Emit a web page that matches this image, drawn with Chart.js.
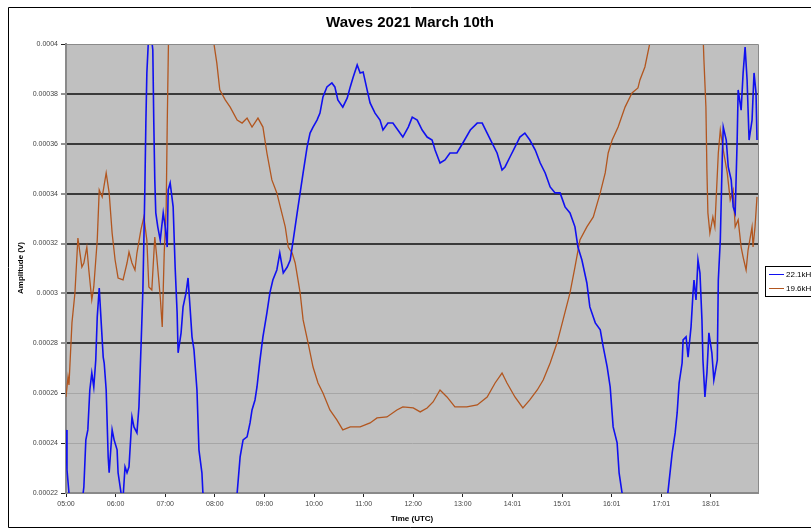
<!DOCTYPE html>
<html>
<head>
<meta charset="utf-8">
<title>Waves 2021 March 10th</title>
<script src="https://cdn.jsdelivr.net/npm/chart.js@4.4.1/dist/chart.umd.min.js"></script>
<style>
    body { margin: 0; background: #ffffff; }
    #wrap { width: 811px; height: 531px; }
</style>
</head>
<body>
<div id="wrap"><canvas id="wavesChart" width="811" height="531"></canvas></div>
<script>
// times are decimal hours (UTC), amplitudes in microvolts
var blueHours = [5.00, 5.02, 5.06, 5.10, 5.30, 5.36, 5.40, 5.44, 5.48, 5.52, 5.56, 5.60, 5.63, 5.67, 5.71, 5.75, 5.77, 5.81, 5.85, 5.87,
    5.93, 5.97, 6.03, 6.05, 6.11, 6.15, 6.19, 6.23, 6.27, 6.33, 6.37, 6.43, 6.47, 6.51, 6.55, 6.57, 6.59, 6.61, 6.63, 6.67,
    6.71, 6.75, 6.77, 6.79, 6.81, 6.85, 6.90, 6.96, 7.00, 7.04, 7.06, 7.10, 7.16, 7.20, 7.24, 7.26, 7.32, 7.36, 7.42, 7.46,
    7.50, 7.54, 7.58, 7.64, 7.68, 7.74, 7.76, 7.90, 8.20, 8.40, 8.45, 8.51, 8.57, 8.65, 8.71, 8.75, 8.81, 8.85, 8.91, 8.97,
    9.05, 9.11, 9.17, 9.25, 9.31, 9.38, 9.46, 9.52, 9.58, 9.66, 9.72, 9.78, 9.86, 9.92, 9.98, 10.06, 10.12, 10.18, 10.26, 10.36,
    10.42, 10.48, 10.58, 10.67, 10.73, 10.79, 10.87, 10.93, 10.99, 11.07, 11.13, 11.23, 11.33, 11.39, 11.49, 11.59, 11.69, 11.79, 11.90, 11.98,
    12.08, 12.18, 12.28, 12.38, 12.44, 12.54, 12.64, 12.74, 12.88, 13.00, 13.15, 13.29, 13.39, 13.49, 13.59, 13.69, 13.79, 13.85, 13.95, 14.05,
    14.15, 14.25, 14.35, 14.46, 14.56, 14.66, 14.76, 14.86, 14.96, 15.06, 15.16, 15.26, 15.32, 15.40, 15.50, 15.56, 15.67, 15.77, 15.83, 15.91,
    15.97, 16.03, 16.11, 16.15, 16.21, 16.50, 16.90, 17.10, 17.22, 17.28, 17.32, 17.36, 17.42, 17.44, 17.50, 17.54, 17.60, 17.64, 17.66, 17.70,
    17.74, 17.78, 17.82, 17.84, 17.88, 17.92, 17.96, 18.02, 18.06, 18.13, 18.15, 18.19, 18.23, 18.25, 18.31, 18.35, 18.41, 18.45, 18.49, 18.53,
    18.55, 18.61, 18.65, 18.69, 18.73, 18.77, 18.83, 18.87, 18.91, 18.93];
var blueMicroV = [245.3, 229.3, 220.0, 212, 212, 222.4, 241.3, 245.3, 261.3, 268.1, 262.5, 273.3, 290.6, 302.2, 288.2, 274.5, 272.1, 261.3, 234.5, 228.1,
    245.3, 241.3, 237.3, 228.1, 220.0, 218, 230.5, 228.1, 230.5, 250.5, 246.5, 244.1, 254.5, 277.4, 301.4, 321.4, 342.7, 368.3, 388.4, 405,
    405, 397.6, 368.3, 345.5, 332.3, 326.7, 321.4, 332.3, 326.7, 318.6, 341.5, 344.3, 334.7, 310.6, 292.2, 276.2, 284.2, 294.6, 300.2, 306.2,
    294.6, 282.6, 277.4, 261.3, 237.3, 228.1, 220.0, 205, 200, 212, 220.0, 234.5, 241.3, 242.5, 248.1, 253.3, 257.3, 262.5, 273.3, 282.6,
    292.2, 300.2, 305.4, 309.4, 316.2, 308.2, 310.6, 313.4, 321.4, 332.3, 340.3, 348.3, 358.7, 364.3, 366.7, 369.5, 372.3, 378.8, 382.8, 384.4,
    382.8, 377.6, 374.7, 378.4, 382.8, 386.8, 391.6, 388.4, 388.8, 381.6, 376.4, 372.3, 369.5, 365.5, 368.3, 368.3, 365.5, 362.7, 366.7, 370.7,
    369.5, 365.5, 362.7, 361.5, 357.5, 352.3, 353.5, 356.3, 356.3, 360.3, 365.5, 368.3, 368.3, 364.3, 360.3, 356.3, 349.5, 350.7, 354.7, 358.7,
    362.7, 364.3, 361.5, 357.5, 352.3, 348.3, 342.7, 340.3, 340.3, 334.7, 332.3, 326.7, 318.6, 313.4, 304.2, 294.6, 288.2, 285.4, 278.6, 270.5,
    262.5, 246.5, 240.1, 228.1, 220.0, 210, 206, 214, 236.1, 244.1, 252.1, 264.1, 272.1, 281.4, 282.6, 274.5, 286.6, 300.2, 305.4, 297.4,
    313.4, 308.2, 289.4, 273.3, 258.5, 268.1, 284.2, 276.2, 265.3, 273.3, 305.4, 321.4, 354.7, 366.7, 361.5, 350.7, 345.5, 334.7, 332.3, 361.5,
    381.6, 373.5, 388.4, 398.8, 385.6, 361.5, 369.5, 388.4, 380.4, 361.5];

var brownHours = [5.00, 5.04, 5.06, 5.12, 5.18, 5.24, 5.32, 5.36, 5.42, 5.46, 5.52, 5.56, 5.63, 5.67, 5.73, 5.81, 5.87, 5.93, 5.99, 6.05,
    6.15, 6.23, 6.27, 6.33, 6.39, 6.43, 6.51, 6.57, 6.63, 6.67, 6.73, 6.79, 6.83, 6.90, 6.94, 6.98, 7.02, 7.04, 7.08, 7.40,
    7.80, 7.95, 7.98, 8.04, 8.10, 8.21, 8.31, 8.45, 8.55, 8.65, 8.75, 8.87, 8.97, 9.05, 9.15, 9.25, 9.35, 9.42, 9.48, 9.56,
    9.62, 9.72, 9.78, 9.88, 9.98, 10.08, 10.18, 10.32, 10.46, 10.58, 10.73, 10.93, 11.13, 11.27, 11.47, 11.67, 11.79, 12.00, 12.14, 12.28,
    12.40, 12.54, 12.68, 12.84, 13.08, 13.29, 13.49, 13.65, 13.79, 13.89, 14.05, 14.21, 14.35, 14.50, 14.62, 14.76, 14.90, 15.02, 15.16, 15.26,
    15.36, 15.50, 15.63, 15.77, 15.87, 15.93, 16.01, 16.13, 16.27, 16.41, 16.53, 16.57, 16.67, 16.77, 16.85, 17.20, 17.60, 17.84, 17.86, 17.90,
    17.92, 17.94, 17.98, 18.04, 18.08, 18.15, 18.19, 18.25, 18.33, 18.39, 18.45, 18.49, 18.55, 18.61, 18.65, 18.71, 18.75, 18.83, 18.85, 18.89,
    18.93];
var brownMicroV = [258.5, 266.5, 263.3, 288.2, 300.2, 322.2, 310.6, 312.2, 318.6, 309.4, 297.4, 302.6, 321.4, 341.5, 338.7, 348.3, 340.3, 324.2, 313.4, 306.2,
    305.4, 312.2, 316.6, 312.2, 309.4, 316.2, 325.5, 330.7, 321.4, 302.6, 301.4, 322.6, 314.6, 298.6, 286.6, 316.2, 334.7, 366.7, 420, 430,
    425, 405, 400.4, 392.4, 381.6, 377.6, 374.7, 369.5, 368.3, 370.3, 366.7, 370.3, 366.7, 356.3, 345.5, 340.3, 332.3, 326.7, 318.6, 316.2,
    312.2, 300.2, 289.4, 280.2, 270.5, 264.1, 260.1, 253.3, 249.3, 245.3, 246.5, 246.5, 248.1, 250.1, 250.5, 253.3, 254.5, 254.1, 252.5, 254.1,
    256.5, 261.3, 258.5, 254.5, 254.5, 255.3, 258.5, 264.1, 268.1, 264.1, 258.5, 254.1, 257.3, 261.3, 265.3, 272.1, 280.2, 289.4, 300.2, 310.6,
    321.4, 326.7, 330.7, 340.3, 348.3, 356.3, 361.5, 366.7, 374.7, 380.4, 382.4, 385.6, 390.8, 400.4, 420, 430, 428, 405, 393.6, 374.7,
    349.5, 332.3, 324.2, 330.7, 326.7, 356.3, 365.5, 357.5, 348.3, 337.5, 341.5, 326.7, 329.5, 318.6, 314.6, 309.4, 317.4, 326.7, 318.6, 326.7,
    338.7];

var seriesNames = ['22.1kHz', '19.6kHz'];
var seriesColors = ['#1010f0', '#b2561f'];

var xTickHours = [5, 6, 7, 8, 9, 10, 11, 12, 13, 14, 15, 16, 17, 18];
var xTickLabels = ['05:00', '06:00', '07:00', '08:00', '09:00', '10:00', '11:00', '12:00', '13:00', '14:01', '15:01', '16:01', '17:01', '18:01'];
var yTickLabels = ['0.00022', '0.00024', '0.00026', '0.00028', '0.0003', '0.00032', '0.00034', '0.00036', '0.00038', '0.0004'];

function toPoints(hours, microV) {
    var pts = [];
    for (var i = 0; i < hours.length; i++) {
        pts.push({ x: hours[i], y: microV[i] / 1e6 });
    }
    return pts;
}

// gridline look: dark for the middle band, pale for the lower two, border at the top
function gridColor(ctx) {
    var v = ctx.tick ? ctx.tick.value : 0;
    if (v > 0.000395) return '#8a8a8a';
    if (v > 0.000275) return '#3a3a3a';
    return '#a6a6a6';
}
function gridWidth(ctx) {
    var v = ctx.tick ? ctx.tick.value : 0;
    if (v > 0.000275 && v < 0.000395) return 2;
    return 1;
}

var decorPlugin = {
    id: 'decor',
    beforeDraw: function(chart) {
        var c = chart.ctx, a = chart.chartArea;
        c.save();
        c.fillStyle = '#c0c0c0';
        c.fillRect(a.left, a.top, a.right - a.left, a.bottom - a.top);
        c.restore();
    },
    afterDraw: function(chart) {
        var c = chart.ctx, a = chart.chartArea;
        c.save();
        // plot frame top/right
        c.strokeStyle = '#8a8a8a';
        c.lineWidth = 1;
        c.beginPath();
        c.moveTo(a.left, a.top + 0.5);
        c.lineTo(a.right + 0.5, a.top + 0.5);
        c.lineTo(a.right + 0.5, a.bottom);
        c.stroke();

        // outer chart border
        c.strokeStyle = '#000000';
        c.beginPath();
        c.moveTo(820, 7.5);
        c.lineTo(8.5, 7.5);
        c.lineTo(8.5, 527.5);
        c.lineTo(820, 527.5);
        c.stroke();

        // title
        c.fillStyle = '#000000';
        c.textAlign = 'center';
        c.textBaseline = 'middle';
        c.font = 'bold 15px "Liberation Sans", Arial, sans-serif';
        c.fillText('Waves 2021 March 10th', 410, 23);

        // axis titles
        c.font = 'bold 8px "Liberation Sans", Arial, sans-serif';
        c.fillText('Time (UTC)', 412, 519);
        c.save();
        c.translate(21, 268);
        c.rotate(-Math.PI / 2);
        c.fillText('Amplitude (V)', 0, 0);
        c.restore();

        // legend box
        c.strokeStyle = '#000000';
        c.fillStyle = '#ffffff';
        c.fillRect(765, 266, 50, 31);
        c.strokeRect(765.5, 266.5, 50, 30);
        c.font = '8px "Liberation Sans", Arial, sans-serif';
        c.textAlign = 'left';
        for (var i = 0; i < seriesNames.length; i++) {
            var ly = 274.5 + i * 14;
            c.strokeStyle = seriesColors[i];
            c.beginPath();
            c.moveTo(769, ly);
            c.lineTo(784, ly);
            c.stroke();
            c.fillStyle = '#000000';
            c.fillText(seriesNames[i], 786, ly);
        }
        c.restore();
    }
};

var ctx = document.getElementById('wavesChart').getContext('2d');
var wavesChart = new Chart(ctx, {
    type: 'line',
    data: {
        datasets: [{
            label: seriesNames[0],
            data: toPoints(blueHours, blueMicroV),
            borderColor: seriesColors[0],
            borderWidth: 1.6,
            pointRadius: 0,
            tension: 0,
            clip: 0
        }, {
            label: seriesNames[1],
            data: toPoints(brownHours, brownMicroV),
            borderColor: seriesColors[1],
            borderWidth: 1.3,
            pointRadius: 0,
            tension: 0,
            clip: 0
        }]
    },
    options: {
        responsive: false,
        devicePixelRatio: 1,
        animation: false,
        layout: {
            padding: { left: 0, top: 44, right: 53, bottom: 0 }
        },
        plugins: {
            legend: { display: false },
            title: { display: false },
            tooltip: { enabled: false }
        },
        scales: {
            x: {
                type: 'linear',
                min: 5,
                max: 18.95,
                afterBuildTicks: function(scale) {
                    scale.ticks = xTickHours.map(function(h) { return { value: h }; });
                },
                afterFit: function(scale) {
                    scale.height = 38;
                },
                ticks: {
                    autoSkip: false,
                    maxRotation: 0,
                    padding: 3,
                    color: '#444444',
                    font: { size: 7, family: '"Liberation Sans", Arial, sans-serif' },
                    callback: function(value, index) {
                        return xTickLabels[index];
                    }
                },
                grid: {
                    drawOnChartArea: false,
                    drawTicks: true,
                    tickLength: 4,
                    tickColor: '#222222',
                    tickWidth: 1
                },
                border: { color: '#8a8a8a', width: 2 }
            },
            y: {
                type: 'linear',
                min: 0.00022,
                max: 0.0004,
                afterBuildTicks: function(scale) {
                    scale.ticks = yTickLabels.map(function(t) { return { value: parseFloat(t) }; });
                },
                afterFit: function(scale) {
                    scale.width = 66;
                },
                ticks: {
                    autoSkip: false,
                    padding: 3,
                    color: '#444444',
                    font: { size: 7, family: '"Liberation Sans", Arial, sans-serif' },
                    callback: function(value, index) {
                        return yTickLabels[index];
                    }
                },
                grid: {
                    color: gridColor,
                    lineWidth: gridWidth,
                    drawTicks: true,
                    tickLength: 5,
                    tickColor: '#222222',
                    tickWidth: 1
                },
                border: { color: '#8a8a8a', width: 2 }
            }
        }
    },
    plugins: [decorPlugin]
});
</script>
</body>
</html>
